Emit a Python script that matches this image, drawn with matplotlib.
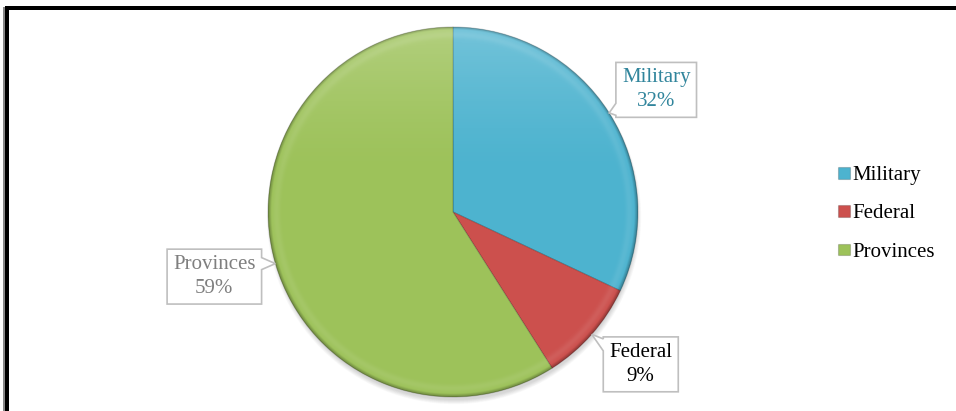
import numpy as np
import matplotlib
matplotlib.use("Agg")
import matplotlib.pyplot as plt
from matplotlib.patches import Rectangle, Circle, Polygon

# Budget shares
categories = ["Military", "Federal", "Provinces"]
shares = [32, 9, 59]

slice_colors = ["#4DB3CF", "#CC504D", "#9DC25A"]
label_colors = ["#31859C", "#000000", "#7F7F7F"]
# callout centre offsets from the rim point of each slice (pixels)
label_offsets = [(47, 23), (49, -30), (-61, -13)]

W, H = 956, 411
plt.rcParams["font.family"] = ["Liberation Serif", "DejaVu Serif"]

fig = plt.figure(figsize=(W / 100, H / 100), dpi=100)
ax = fig.add_axes([0, 0, 1, 1])

cx, cy, R = 453, H - 212, 185

# soft drop shadow under the pie
for k in range(8):
    ax.add_patch(Circle((cx + 1, cy - 5), R - 2 + 0.6 * k, color="black",
                        alpha=0.02, lw=0, zorder=0))

wedges, _ = ax.pie(shares, colors=slice_colors, startangle=90, counterclock=False,
                   center=(cx, cy), radius=R,
                   wedgeprops=dict(linewidth=0.8, edgecolor=(0, 0, 0, 0.18)))
for w in wedges:
    w.set_zorder(1)

# bevel-style shading: top highlight, light inner band, darker rim
n = 700
yy, xx = np.mgrid[1:-1:n * 1j, -1:1:n * 1j]
r = np.hypot(xx, yy)
hl = np.clip((yy - 0.2) / 0.8, 0, 1) ** 1.4 * 0.22
band = np.exp(-((r - 0.955) / 0.02) ** 2) * 0.08
white = np.zeros((n, n, 4))
white[..., :3] = 1.0
white[..., 3] = np.clip(hl + band, 0, 1)
dark = np.zeros((n, n, 4))
dark[..., 3] = np.clip((r - 0.982) / 0.018, 0, 1) * 0.30
clip_circle = Circle((cx, cy), R, transform=ax.transData)
for img in (white, dark):
    im = ax.imshow(img, extent=(cx - R, cx + R, cy - R, cy + R), origin="upper",
                   zorder=2, interpolation="bilinear")
    im.set_clip_path(clip_circle)

ax.set_xlim(0, W)
ax.set_ylim(0, H)
ax.set_aspect("equal")
ax.axis("off")

# outer frame (left and top edges)
ax.add_patch(Rectangle((3.5, 0), 1.5, H - 7, color="#888888", lw=0, zorder=5))
ax.add_patch(Rectangle((5, 0), 4, H - 7, color="black", lw=0, zorder=5))
ax.add_patch(Rectangle((5, H - 10.5), W, 1.5, color="#888888", lw=0, zorder=5))
ax.add_patch(Rectangle((5, H - 10), W, 3.5, color="black", lw=0, zorder=5))


def callout_vertices(x0, y0, x1, y1, tx, ty, half=6):
    if tx < x0:
        c = np.clip(ty, y0 + half + 2, y1 - half - 2)
        return [(x0, y0), (x1, y0), (x1, y1), (x0, y1),
                (x0, c + half), (tx, ty), (x0, c - half)]
    if tx > x1:
        c = np.clip(ty, y0 + half + 2, y1 - half - 2)
        return [(x0, y0), (x1, y0), (x1, c - half), (tx, ty),
                (x1, c + half), (x1, y1), (x0, y1)]
    c = np.clip(tx, x0 + half + 2, x1 - half - 2)
    if ty < y0:
        return [(x0, y0), (c - half, y0), (tx, ty), (c + half, y0),
                (x1, y0), (x1, y1), (x0, y1)]
    return [(x0, y0), (x1, y0), (x1, y1), (c + half, y1), (tx, ty),
            (c - half, y1), (x0, y1)]


fig.canvas.draw()
renderer = fig.canvas.get_renderer()
inv = ax.transData.inverted()
total = sum(shares)
cum = np.concatenate([[0], np.cumsum(shares)])
for i, (cat, val) in enumerate(zip(categories, shares)):
    mid = np.deg2rad(90 - 360 * (cum[i] + val / 2) / total)
    tx, ty = cx + R * np.cos(mid), cy + R * np.sin(mid)
    lx, ly = tx + label_offsets[i][0], ty + label_offsets[i][1]
    t = ax.text(lx, ly, f"{cat}\n{val}%", ha="center", va="center",
                fontsize=15, color=label_colors[i], linespacing=1.35, zorder=7)
    bb = t.get_window_extent(renderer).transformed(inv)
    x0, x1 = bb.x0 - 6, bb.x1 + 6
    y0, y1 = bb.y0 - 6, bb.y1 + 6
    ax.add_patch(Polygon(callout_vertices(x0, y0, x1, y1, tx, ty), closed=True,
                         facecolor="white", edgecolor="#BFBFBF", lw=1.2, zorder=6))

ax.legend(wedges, categories, loc="center left",
          bbox_to_anchor=(838 / W, (H - 214) / H), frameon=False,
          borderpad=0, borderaxespad=0, handlelength=0.58, handleheight=0.5,
          handletextpad=0.1, labelspacing=0.93, prop={"size": 15})

fig.savefig("out.png", dpi=100)
